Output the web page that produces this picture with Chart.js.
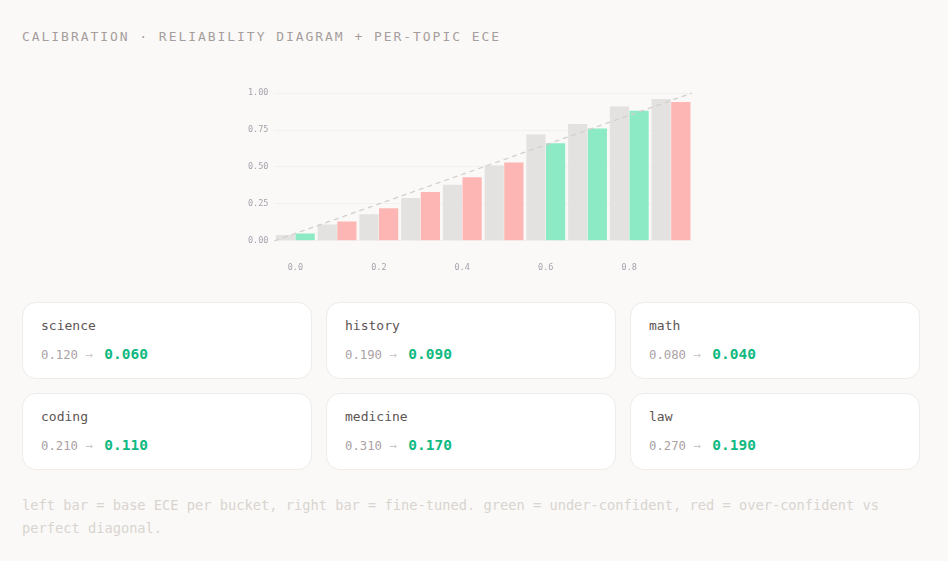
<!DOCTYPE html>
<html>
<head>
<meta charset="utf-8">
<script src="https://cdn.jsdelivr.net/npm/chart.js@4"></script>
<style>
  html, body { margin: 0; background: #faf9f7; }
  body { padding: 28px 22px; font-family: "DejaVu Sans Mono", monospace; width: 898px; }
  .title { font-size: 13px; line-height: 18px; letter-spacing: 0.15em; color: #a69e9d; }
  .chart-wrap { position: relative; margin-top: 36px; margin-left: 220px; width: 451px; height: 213px; }
  .cards { display: grid; grid-template-columns: repeat(3, 1fr); gap: 14px; margin-top: 7px; }
  .card { background: #fff; border: 1px solid #efece9; border-radius: 14px; height: 77px; box-sizing: border-box; padding: 13px 18px 0; }
  .card .name { font-size: 13px; line-height: 20px; color: #5d5552; }
  .card .vals { margin-top: 8px; line-height: 20px; white-space: pre; }
  .card .before { font-size: 12.3px; color: #aaa2a4; }
  .card .arrow { font-size: 12.3px; color: #cdc8c5; }
  .card .after { font-size: 14.5px; font-weight: bold; color: #10b981; margin-left: 4px; }
  .foot { margin-top: 24px; font-size: 13.7px; line-height: 23px; color: #d9d4cf; }
</style>
</head>
<body>
<div class="title">CALIBRATION · RELIABILITY DIAGRAM + PER-TOPIC ECE</div>
<div class="chart-wrap"><canvas id="rel"></canvas></div>
<div class="cards" id="cards"></div>
<div class="foot">left bar = base ECE per bucket, right bar = fine-tuned. green = under-confident, red = over-confident vs perfect diagonal.</div>
<script>
// confidence buckets
const buckets = ["0.0", "0.1", "0.2", "0.3", "0.4", "0.5", "0.6", "0.7", "0.8", "0.9"];
const baseAcc = [0.04, 0.11, 0.18, 0.29, 0.38, 0.51, 0.72, 0.79, 0.91, 0.96];
const tunedAcc = [0.05, 0.13, 0.22, 0.33, 0.43, 0.53, 0.66, 0.76, 0.88, 0.94];
// "under" -> green, "over" -> red
const tunedSide = ["under", "over", "over", "over", "over", "over", "under", "under", "under", "over"];
const yTicks = [0, 0.25, 0.5, 0.75, 1];
// perfect calibration: accuracy at left and right edge of the confidence range
const diagonal = [0, 1];

const topics = ["science", "history", "math", "coding", "medicine", "law"];
const eceBase = [0.12, 0.19, 0.08, 0.21, 0.31, 0.27];
const eceTuned = [0.06, 0.09, 0.04, 0.11, 0.17, 0.19];

const GREY = "#e4e2e0";
const GREEN = "#8ceac5";
const RED = "#fdb6b4";

const cards = document.getElementById("cards");
topics.forEach((t, i) => {
  const el = document.createElement("div");
  el.className = "card";
  el.innerHTML = `<div class="name">${t}</div><div class="vals"><span class="before">${eceBase[i].toFixed(3)}</span><span class="arrow"> → </span><span class="after">${eceTuned[i].toFixed(3)}</span></div>`;
  cards.appendChild(el);
});

// dashed y = x line, drawn over the bars.
// (a line dataset on a 2nd x axis halves the bar width in chart.js 4.5, so do it here)
const diagonalLine = {
  id: "diagonalLine",
  afterDatasetsDraw(chart) {
    const { ctx, scales } = chart;
    ctx.save();
    ctx.strokeStyle = "#d2cfcc";
    ctx.lineWidth = 1.3;
    ctx.setLineDash([5, 4]);
    ctx.beginPath();
    ctx.moveTo(scales.x.left, scales.y.getPixelForValue(diagonal[0]));
    ctx.lineTo(scales.x.right, scales.y.getPixelForValue(diagonal[1]));
    ctx.stroke();
    ctx.restore();
  },
};

const tickFont = { family: "DejaVu Sans Mono, monospace", size: 8.5 };

new Chart(document.getElementById("rel").getContext("2d"), {
  type: "bar",
  data: {
    labels: buckets,
    datasets: [
      {
        label: "base",
        data: baseAcc,
        backgroundColor: GREY,
        categoryPercentage: 0.94,
        barPercentage: 0.98,
      },
      {
        label: "fine-tuned",
        data: tunedAcc,
        backgroundColor: tunedSide.map((s) => (s === "under" ? GREEN : RED)),
        categoryPercentage: 0.94,
        barPercentage: 0.98,
      },
    ],
  },
  options: {
    responsive: true,
    maintainAspectRatio: false,
    animation: false,
    plugins: { legend: { display: false }, tooltip: { enabled: false } },
    scales: {
      x: {
        grid: { display: false, drawTicks: false },
        border: { display: false },
        ticks: {
          font: tickFont,
          color: "#a9a1ad",
          padding: 22,
          maxRotation: 0,
          autoSkip: false,
          callback: (v, i) => (i % 2 === 0 ? buckets[i] : ""),
        },
      },
      y: {
        min: 0,
        max: 1,
        afterBuildTicks: (s) => { s.ticks = yTicks.map((v) => ({ value: v })); },
        grid: { color: "#f3f1ee", drawTicks: false },
        border: { display: false },
        ticks: { font: tickFont, color: "#a9a1ad", padding: 6, callback: (v) => Number(v).toFixed(2) },
      },
    },
  },
  plugins: [diagonalLine],
});
</script>
</body>
</html>
